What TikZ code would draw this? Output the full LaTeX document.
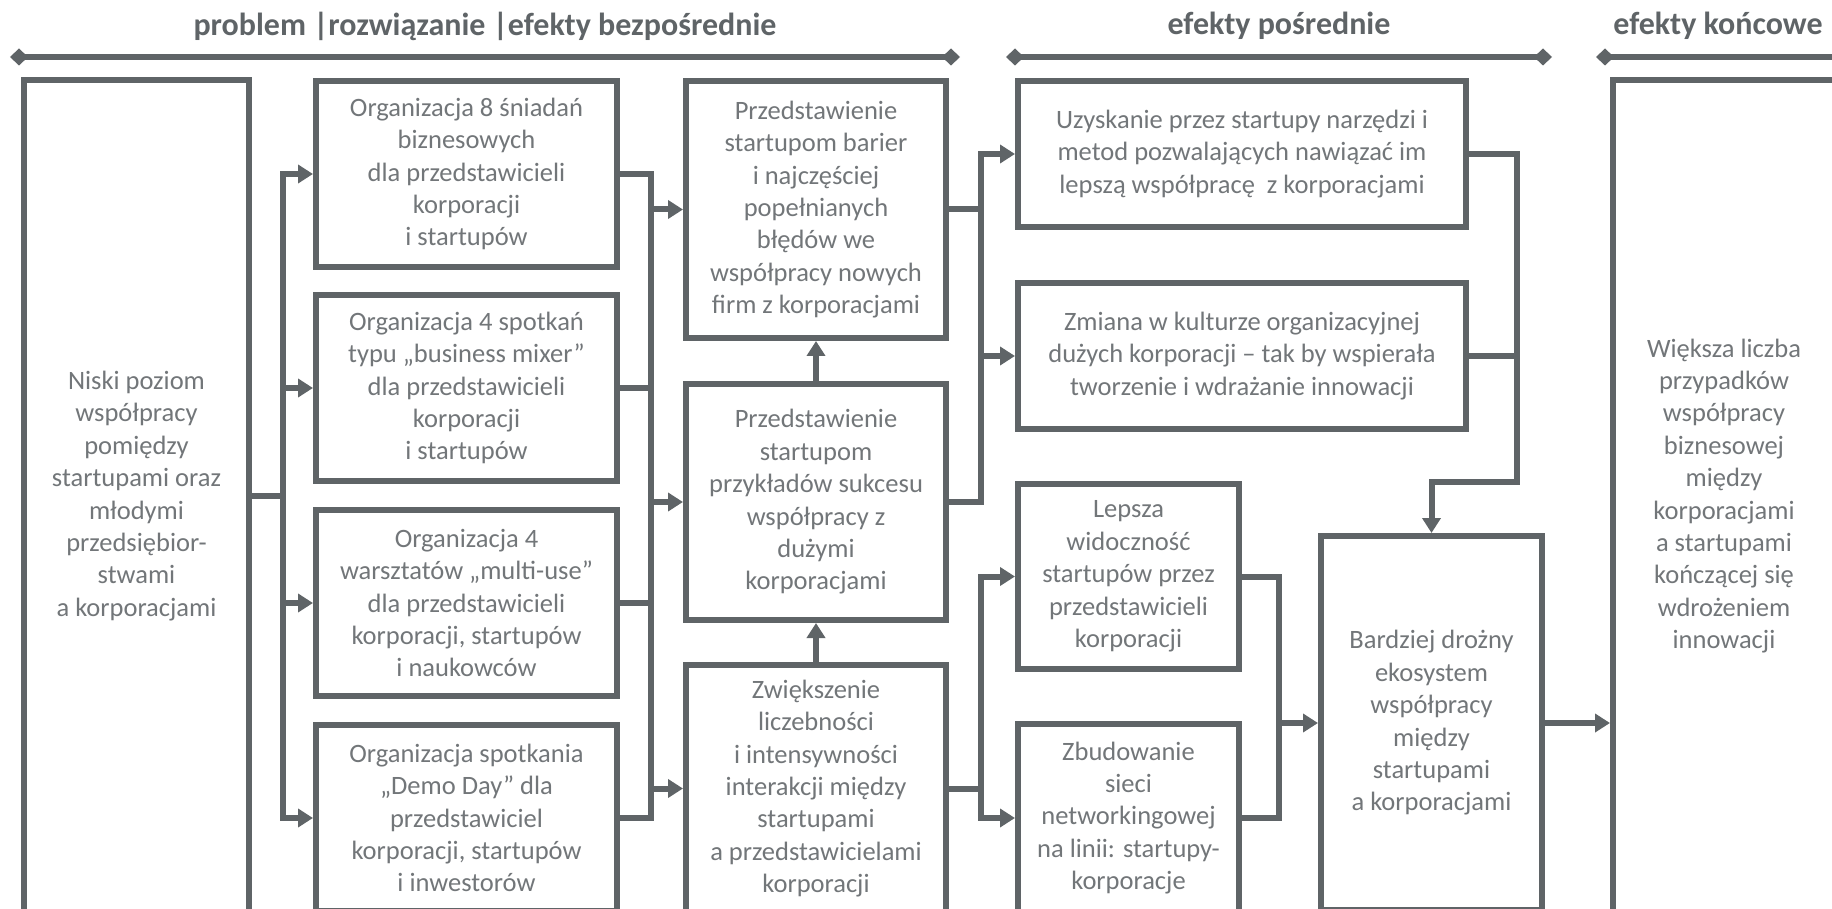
\documentclass[tikz,border=0pt]{standalone}
\usepackage{fontspec}
\setmainfont{Carlito}
\usetikzlibrary{arrows.meta}
\definecolor{linegray}{RGB}{95,100,103}
\definecolor{txtgray}{RGB}{114,118,121}

\begin{document}
\begin{tikzpicture}[x=1pt,y=-1pt,
  box/.style={draw=linegray, line width=6pt, fill=white, inner sep=0pt,
    align=center, text=txtgray, font=\fontsize{26.5}{32.4}\selectfont},
  link/.style={draw=linegray, line width=6pt, line cap=rect},
  arr/.style={draw=linegray, line width=6pt, line cap=rect,
    -{Triangle[length=15pt,width=18pt]}},
  hdr/.style={draw=linegray, line width=6pt,
    {Kite[length=18pt,width=17pt,inset=9pt]}-{Kite[length=18pt,width=17pt,inset=9pt]}},
  title/.style={text=linegray, font=\bfseries\fontsize{32}{37}\selectfont}
]
\useasboundingbox (0,0) rectangle (1832,909);
\clip (0,0) rectangle (1832,909);

% column headings
\node[title] (t1) at (485,26) {problem |rozwiązanie |efekty bezpośrednie};
\node[title] (t2) at (1279,26) {efekty pośrednie};
\node[title] (t3) at (1718,26) {efekty końcowe};
\coordinate (h1l) at (10,57);   \coordinate (h1r) at (960,57);
\coordinate (h2l) at (1006,57); \coordinate (h2r) at (1552,57);
\coordinate (h3l) at (1596,57); \coordinate (h3r) at (1860,57);
\draw[hdr] (h1l) -- (h1r);
\draw[hdr] (h2l) -- (h2r);
\draw[hdr] (h3l) -- (h3r);

% problem
\node[box, minimum width=225pt, minimum height=832pt] (A) at (136.5,496)
  {Niski poziom\\współpracy\\pomiędzy\\startupami oraz\\młodymi\\przedsiębior-\\stwami\\a korporacjami};

% activities
\node[box, minimum width=301pt, minimum height=186pt] (B1) at (466.5,174)
  {Organizacja 8 śniadań\\biznesowych\\dla przedstawicieli\\korporacji\\i startupów};
\node[box, minimum width=301pt, minimum height=186pt] (B2) at (466.5,388)
  {Organizacja 4 spotkań\\typu „business mixer”\\dla przedstawicieli\\korporacji\\i startupów};
\node[box, minimum width=301pt, minimum height=186pt] (B3) at (466.5,603)
  {Organizacja 4\\warsztatów „multi-use”\\dla przedstawicieli\\korporacji, startupów\\i naukowców};
\node[box, minimum width=301pt, minimum height=186pt] (B4) at (466.5,818)
  {Organizacja spotkania\\„Demo Day” dla\\przedstawiciel\\korporacji, startupów\\i inwestorów};

% direct effects
\node[box, minimum width=260pt, minimum height=257pt] (C1) at (816,209.5)
  {Przedstawienie\\startupom barier\\i najczęściej\\popełnianych\\błędów we\\współpracy nowych\\firm z korporacjami};
\node[box, minimum width=260pt, minimum height=236pt] (C2) at (816,502)
  {Przedstawienie\\startupom\\przykładów sukcesu\\współpracy z\\dużymi\\korporacjami};
\node[box, minimum width=260pt, minimum height=247pt] (C3) at (816,788.5)
  {Zwiększenie\\liczebności\\i intensywności\\interakcji między\\startupami\\a przedstawicielami\\korporacji};

% intermediate effects
\node[box, minimum width=448pt, minimum height=146pt] (D1) at (1242,154)
  {Uzyskanie przez startupy narzędzi i\\metod pozwalających nawiązać im\\lepszą współpracę\ \ z korporacjami};
\node[box, minimum width=448pt, minimum height=146pt] (D2) at (1242,356)
  {Zmiana w kulturze organizacyjnej\\dużych korporacji – tak by wspierała\\tworzenie i wdrażanie innowacji};
\node[box, minimum width=221pt, minimum height=185pt] (D3) at (1128.5,576.5)
  {Lepsza\\widoczność\\startupów przez\\przedstawicieli\\korporacji};
\node[box, minimum width=221pt, minimum height=188pt] (D4) at (1128.5,818)
  {Zbudowanie\\sieci\\networkingowej\\na linii: startupy-\\korporacje};
\node[box, minimum width=221pt, minimum height=374pt] (E) at (1431.5,723)
  {Bardziej drożny\\ekosystem\\współpracy\\między\\startupami\\a korporacjami};

% final effect
\node[box, minimum width=222pt, minimum height=832pt] (F) at (1724,496)
  {Większa liczba\\przypadków\\współpracy\\biznesowej\\między\\korporacjami\\a startupami\\kończącej się\\wdrożeniem\\innowacji};

% bus lines
\coordinate (busA) at (283,0);
\coordinate (busB) at (651,0);
\coordinate (busC) at (981,0);
\coordinate (busD) at (1279,0);
\coordinate (busE) at (1517,482);

% problem -> activities
\draw[link] (A.east) -- (A.east -| busA);
\draw[link] (B1.west -| busA) -- (B4.west -| busA);
\foreach \n in {B1,B2,B3,B4} \draw[arr] (\n.west -| busA) -- (\n.west);

% activities -> direct effects
\foreach \n in {B1,B2,B3,B4} \draw[link] (\n.east) -- (\n.east -| busB);
\draw[link] (B1.east -| busB) -- (B4.east -| busB);
\foreach \n in {C1,C2,C3} \draw[arr] (\n.west -| busB) -- (\n.west);
\draw[arr] (C2.north) -- (C1.south);
\draw[arr] (C3.north) -- (C2.south);

% direct -> intermediate effects
\draw[link] (C1.east) -- (C1.east -| busC);
\draw[link] (C2.east) -- (C2.east -| busC);
\draw[link] (D1.west -| busC) -- (C2.east -| busC);
\draw[arr] (D1.west -| busC) -- (D1.west);
\draw[arr] (D2.west -| busC) -- (D2.west);
\draw[link] (C3.east) -- (C3.east -| busC);
\draw[link] (D3.west -| busC) -- (D4.west -| busC);
\draw[arr] (D3.west -| busC) -- (D3.west);
\draw[arr] (D4.west -| busC) -- (D4.west);

% intermediate -> ecosystem
\draw[link] (D1.east) -| (busE);
\draw[link] (D2.east) -- (D2.east -| busE);
\draw[arr] (busE) -| (E.north);
\draw[link] (D3.east) -- (D3.east -| busD);
\draw[link] (D4.east) -- (D4.east -| busD);
\draw[link] (D3.east -| busD) -- (D4.east -| busD);
\draw[arr] (E.west -| busD) -- (E.west);

% ecosystem -> final effect
\draw[arr] (E.east) -- (E.east -| F.west);
\end{tikzpicture}
\end{document}
